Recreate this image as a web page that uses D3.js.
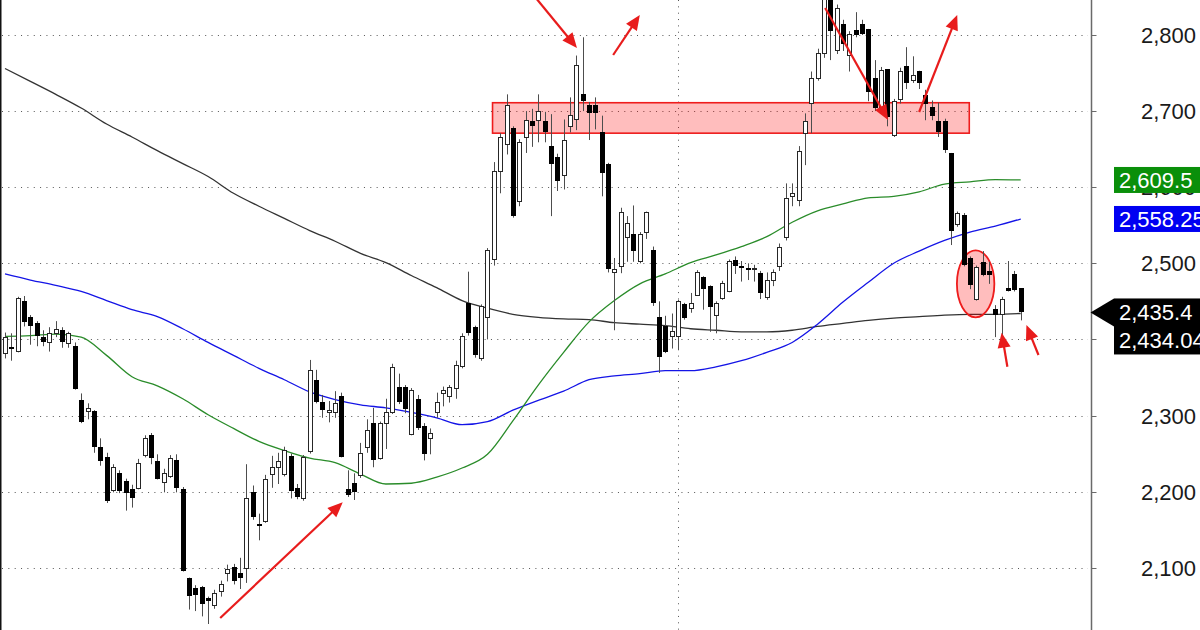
<!DOCTYPE html>
<html>
<head>
<meta charset="utf-8">
<script src="https://cdn.jsdelivr.net/npm/d3@7"></script>
<style>
  html, body { margin: 0; padding: 0; background: #fff; }
  svg { display: block; font-family: "Liberation Sans", Arial, sans-serif; }
</style>
</head>
<body>
<svg id="chart" width="1200" height="630"></svg>
<script>
// Daily OHLC candles, oldest first
const opens = [2382,2390,2385,2450,2429,2421,2403,2397,2408,2412,2395,2391,2320,2306,2306,2259,2245,2202,2224,2214,
  2204,2205,2248,2275,2240,2213,2220,2241,2203,2086,2073,2075,2060,2051,2070,2093,2101,2093,2100,2199,
  2158,2162,2223,2232,2223,2247,2205,2191,2253,2346,2318,2304,2305,2326,2204,2211,2222,2259,2290,2244,
  2290,2304,2338,2338,2276,2322,2286,2270,2304,2330,2326,2336,2365,2448,2416,2375,2429,2505,2621,2657,
  2678,2582,2666,2687,2688,2687,2654,2640,2616,2680,2690,2722,2708,2708,2673,2630,2488,2497,2535,2539,
  2503,2541,2518,2430,2417,2404,2404,2446,2441,2459,2482,2470,2432,2454,2464,2504,2497,2494,2492,2487,
  2456,2478,2497,2535,2588,2583,2671,2711,2744,2777,2850,2780,2815,2774,2806,2815,2808,2743,2700,2755,
  2668,2716,2759,2741,2753,2721,2706,2687,2687,2645,2551,2563,2507,2453,2502,2490,2440,2434,2468,2486,
  2467];
const highs = [2409,2408,2456,2457,2432,2424,2412,2416,2424,2416,2410,2396,2329,2316,2307,2270,2251,2236,2228,2217,
  2209,2243,2274,2277,2249,2230,2248,2249,2206,2087,2077,2076,2062,2071,2083,2104,2105,2113,2236,2208,
  2171,2222,2247,2251,2259,2250,2210,2248,2373,2360,2327,2319,2332,2330,2228,2224,2264,2295,2310,2292,
  2322,2368,2355,2340,2336,2327,2290,2283,2330,2338,2340,2372,2408,2489,2418,2446,2520,2633,2671,2722,
  2680,2663,2700,2703,2722,2699,2696,2644,2689,2718,2773,2797,2712,2718,2694,2632,2507,2573,2562,2576,
  2541,2568,2522,2450,2431,2434,2452,2448,2461,2491,2483,2471,2450,2477,2505,2509,2503,2500,2498,2490,
  2488,2492,2526,2605,2605,2654,2697,2752,2782,2862,2860,2840,2820,2805,2830,2820,2808,2767,2758,2755,
  2716,2757,2784,2772,2753,2728,2714,2711,2690,2645,2568,2566,2509,2497,2516,2502,2445,2456,2503,2490,
  2467];
const lows = [2375,2372,2383,2417,2393,2391,2391,2384,2403,2389,2389,2334,2290,2295,2251,2234,2185,2199,2198,2175,
  2179,2203,2245,2236,2216,2199,2218,2199,2095,2045,2043,2036,2026,2046,2062,2082,2078,2072,2080,2163,
  2136,2159,2205,2210,2220,2191,2190,2188,2250,2316,2297,2291,2297,2245,2193,2189,2218,2251,2232,2242,
  2256,2302,2315,2303,2274,2281,2241,2249,2297,2312,2317,2322,2362,2405,2376,2372,2400,2497,2592,2643,
  2560,2575,2645,2653,2659,2659,2562,2595,2597,2672,2675,2700,2662,2676,2588,2488,2412,2487,2502,2502,
  2500,2532,2444,2356,2382,2388,2386,2426,2435,2457,2439,2410,2408,2452,2462,2486,2476,2478,2476,2453,
  2452,2470,2490,2530,2575,2575,2629,2671,2740,2770,2767,2775,2779,2752,2797,2800,2713,2700,2698,2680,
  2666,2710,2729,2737,2729,2688,2688,2666,2645,2524,2548,2496,2466,2451,2483,2473,2403,2404,2463,2463,
  2425];
const closes = [2403,2387,2455,2423,2418,2404,2397,2408,2414,2397,2409,2335,2291,2310,2259,2240,2187,2232,2201,2198,
  2191,2237,2270,2244,2217,2224,2244,2205,2096,2063,2064,2052,2056,2067,2078,2098,2082,2087,2191,2166,
  2156,2217,2232,2240,2255,2201,2193,2245,2360,2318,2307,2307,2316,2245,2196,2199,2251,2281,2242,2290,
  2304,2364,2318,2309,2334,2283,2249,2277,2318,2334,2338,2366,2404,2408,2380,2444,2518,2621,2666,2708,
  2562,2659,2688,2680,2700,2672,2630,2608,2662,2695,2760,2713,2697,2697,2619,2492,2493,2568,2553,2516,
  2538,2568,2448,2377,2384,2411,2450,2428,2448,2488,2466,2442,2448,2474,2503,2497,2494,2493,2494,2461,
  2478,2488,2522,2586,2593,2647,2687,2744,2777,2852,2805,2836,2788,2801,2800,2801,2725,2704,2754,2692,
  2713,2753,2737,2747,2737,2709,2694,2673,2649,2542,2566,2498,2471,2495,2484,2485,2432,2453,2463,2465,
  2435.4];

// Moving averages, sampled every 4th session (session 0, 4, 8, ... 160)
const maStep = 4;
const maLong = [2756,2739,2722,2704,2683,2666,2648,2631,2614,2592,2575,2559,2543,2529,2513,2501,2484,2468,2451,2441,
  2433,2429,2427,2426,2422,2420,2418,2414,2412,2410,2410,2412,2417,2421,2425,2428,2430,2432,2433,2433,2434.04];
const maMid = [2486,2478,2471,2463,2451,2439,2430,2414,2396,2379,2362,2347,2331,2321,2314,2310,2304,2297,2288,2292,
  2307,2320,2332,2347,2352,2355,2359,2359,2364,2372,2383,2396,2420,2449,2475,2500,2516,2530,2541,2549,2558.25];
const maShort = [2404,2405,2407,2403,2379,2351,2339,2322,2301,2283,2266,2254,2244,2238,2223,2210,2211,2219,2231,2249,
  2293,2340,2383,2423,2451,2473,2486,2501,2511,2522,2535,2554,2569,2578,2586,2588,2594,2604,2607,2610,2609.5];

// Price axis ticks
const yTicks = [2100,2200,2300,2400,2500,2600,2700,2800];

// Last values shown as tags on the price axis
const lastClose = 2435.4;
const lastLong = 2434.04;
const lastMid = 2558.25;
const lastShort = 2609.5;

// Resistance zone (session range and price band)
const zoneSessions = [76.8, 151.9];
const zonePrices = [2671, 2711];

// Highlighted cluster: centre session/price and half extents
const ringCenter = [152.9, 2473];
const ringHalf = [2.95, 44];

// Red arrows: start and tip as [session, price]
const arrowStarts = [[83.3,2852],[95.8,2773.7],[33.9,2033.9],[129.2,2835.5],[144.0,2698.8],[157.9,2364.1],[162.8,2379.5]];
const arrowTips   = [[90.1,2782.9],[100.0,2826.3],[53.2,2185.9],[139.1,2688.3],[150.0,2826.3],[157.0,2408.8],[160.9,2418.9]];

// Session where the period divider sits
const dividerSession = 106;

// ---------------------------------------------------------------
const svg = d3.select("#chart");
const W = 1200, H = 630;
const axisX = 1091.5;

const x = d3.scaleLinear().domain([0, 160]).range([5, 1020.7]);
const y = d3.scaleLinear().domain([2100, 2800]).range([567.7, 35]);
const fmt = d3.format(",");

svg.append("rect").attr("width", W).attr("height", H).attr("fill", "#fff");

// dotted horizontal grid
svg.append("g").selectAll("line").data(yTicks).join("line")
  .attr("x1", 2).attr("x2", 1088)
  .attr("y1", d => Math.round(y(d)) + 0.5).attr("y2", d => Math.round(y(d)) + 0.5)
  .attr("stroke", "#555").attr("stroke-width", 1).attr("stroke-dasharray", "1,5.35");

// dotted period divider
const dx = Math.round(x(dividerSession)) + 0.5;
svg.append("line").attr("x1", dx).attr("x2", dx).attr("y1", 0).attr("y2", H)
  .attr("stroke", "#555").attr("stroke-width", 1).attr("stroke-dasharray", "1,5.35");

// left frame edge
svg.append("line").attr("x1", 0.75).attr("x2", 0.75).attr("y1", 0).attr("y2", H)
  .attr("stroke", "#111").attr("stroke-width", 1.5);

// moving averages
const maLine = d3.line().x((d, i) => x(i * maStep)).y(d => y(d)).curve(d3.curveMonotoneX);
[[maLong, "#333"], [maMid, "#1414e6"], [maShort, "#2a8c2a"]].forEach(([vals, col]) => {
  svg.append("path").datum(vals).attr("d", maLine)
    .attr("fill", "none").attr("stroke", col).attr("stroke-width", 1.3);
});

// resistance zone
svg.append("rect")
  .attr("x", x(zoneSessions[0])).attr("y", y(zonePrices[1]))
  .attr("width", x(zoneSessions[1]) - x(zoneSessions[0]))
  .attr("height", y(zonePrices[0]) - y(zonePrices[1]))
  .attr("fill", "rgba(255,0,0,0.26)").attr("stroke", "#ee1c1c").attr("stroke-width", 1.6);

// highlighted cluster
svg.append("ellipse")
  .attr("cx", x(ringCenter[0])).attr("cy", y(ringCenter[1]))
  .attr("rx", x(ringCenter[0] + ringHalf[0]) - x(ringCenter[0]))
  .attr("ry", y(ringCenter[1] - ringHalf[1]) - y(ringCenter[1]))
  .attr("fill", "rgba(255,0,0,0.26)").attr("stroke", "#ee1c1c").attr("stroke-width", 1.8);

// candles
const candles = d3.range(opens.length).map(i => ({ i, o: opens[i], h: highs[i], l: lows[i], c: closes[i] }));
const cg = svg.append("g");
candles.forEach(d => {
  const cx = Math.round(x(d.i)) + 0.5;
  cg.append("line").attr("x1", cx).attr("x2", cx)
    .attr("y1", y(d.h)).attr("y2", y(d.l))
    .attr("stroke", "#4d4d4d").attr("stroke-width", 1);
  const top = Math.round(y(Math.max(d.o, d.c)));
  const bot = Math.round(y(Math.min(d.o, d.c)));
  const hgt = Math.max(1, bot - top);
  if (d.c >= d.o) {
    cg.append("rect").attr("x", cx - 2).attr("y", top + 0.5)
      .attr("width", 4).attr("height", hgt)
      .attr("fill", "#fff").attr("stroke", "#262626").attr("stroke-width", 1);
  } else {
    cg.append("rect").attr("x", cx - 2.5).attr("y", top)
      .attr("width", 5).attr("height", Math.max(2, hgt))
      .attr("fill", "#000");
  }
});

// arrows
const ag = svg.append("g");
arrowStarts.forEach((s, k) => {
  const t = arrowTips[k];
  const x1 = x(s[0]), y1 = y(s[1]), x2 = x(t[0]), y2 = y(t[1]);
  const len = Math.hypot(x2 - x1, y2 - y1);
  const ux = (x2 - x1) / len, uy = (y2 - y1) / len;
  const head = 15, half = 6.5;
  const bx = x2 - ux * head, by = y2 - uy * head;
  ag.append("line").attr("x1", x1).attr("y1", y1).attr("x2", bx + ux * 2).attr("y2", by + uy * 2)
    .attr("stroke", "#e81c1c").attr("stroke-width", 2.2);
  ag.append("path")
    .attr("d", `M${x2},${y2}L${bx - uy * half},${by + ux * half}L${bx + uy * half},${by - ux * half}Z`)
    .attr("fill", "#e81c1c");
});

// price axis
svg.append("line").attr("x1", axisX).attr("x2", axisX).attr("y1", 0).attr("y2", H)
  .attr("stroke", "#6a6a6a").attr("stroke-width", 1.5);
svg.append("g").selectAll("line").data(yTicks).join("line")
  .attr("x1", axisX).attr("x2", axisX + 5)
  .attr("y1", d => Math.round(y(d)) + 0.5).attr("y2", d => Math.round(y(d)) + 0.5)
  .attr("stroke", "#6a6a6a").attr("stroke-width", 1);
svg.append("g").selectAll("text").data(yTicks).join("text")
  .attr("x", 1141).attr("y", d => y(d) + 8)
  .attr("font-size", 22).attr("fill", "#1a1a1a")
  .text(d => fmt(d));

// value tags
function tag(val, fill, label) {
  const cy = y(val);
  svg.append("rect").attr("x", 1114).attr("y", cy - 13).attr("width", 90).attr("height", 26).attr("fill", fill);
  svg.append("text").attr("x", 1119).attr("y", cy + 8).attr("font-size", 22).attr("fill", "#fff").text(label);
}
tag(lastShort, "#0a8f0a", fmt(lastShort));
tag(lastMid, "#0000f2", d3.format(",.2f")(lastMid));

const cy0 = y(lastClose);
svg.append("path")
  .attr("d", `M${axisX - 1},${cy0}L1114,${cy0 - 14}L1114,${cy0 + 14}Z`).attr("fill", "#000");
svg.append("rect").attr("x", 1114).attr("y", cy0 - 14).attr("width", 90).attr("height", 56).attr("fill", "#000");
svg.append("text").attr("x", 1119).attr("y", cy0 + 8).attr("font-size", 22).attr("fill", "#fff")
  .text(d3.format(",.1f")(lastClose));
svg.append("text").attr("x", 1119).attr("y", cy0 + 36).attr("font-size", 22).attr("fill", "#fff")
  .text(d3.format(",.2f")(lastLong));
</script>
</body>
</html>
